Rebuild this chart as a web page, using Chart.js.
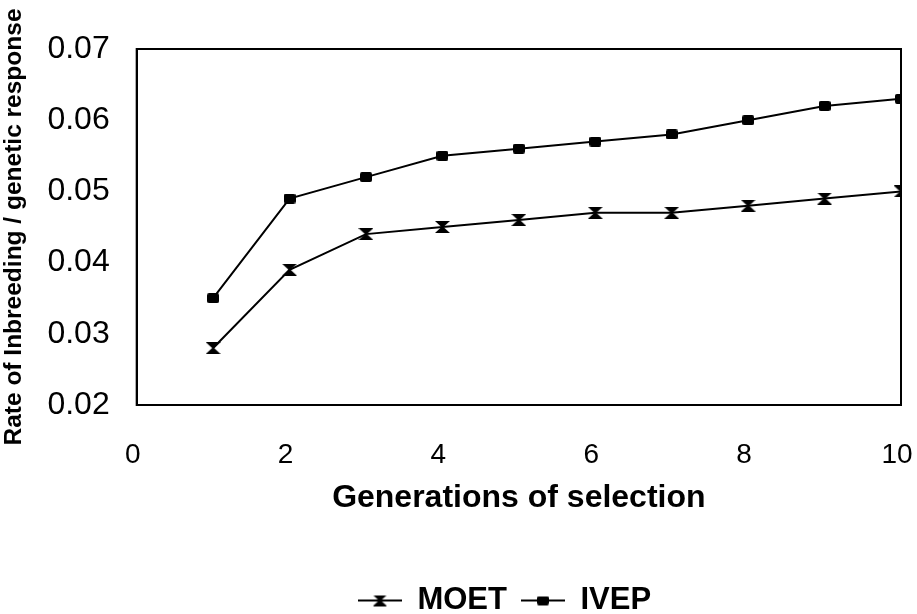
<!DOCTYPE html>
<html>
<head>
<meta charset="utf-8">
<script src="https://cdn.jsdelivr.net/npm/chart.js@4.4.1/dist/chart.umd.min.js"></script>
<style>
  html,body{margin:0;padding:0;background:#fff;}
  #wrap{width:917px;height:614px;position:relative;}
</style>
</head>
<body>
<div id="wrap"><canvas id="chart"></canvas></div>
<script>
// data
const generations = [1, 2, 3, 4, 5, 6, 7, 8, 9, 10];
const moet = [0.028, 0.039, 0.044, 0.045, 0.046, 0.047, 0.047, 0.048, 0.049, 0.050];
const ivep = [0.035, 0.049, 0.052, 0.055, 0.056, 0.057, 0.058, 0.060, 0.062, 0.063];
const xTicks = [0, 2, 4, 6, 8, 10];
const yTicks = [0.02, 0.03, 0.04, 0.05, 0.06, 0.07];

const FONT = 'Liberation Sans, Arial, sans-serif';

// hourglass marker used for MOET
function hourglass(w, h){
  const c = document.createElement('canvas');
  c.width = w; c.height = h;
  const g = c.getContext('2d');
  g.fillStyle = '#000';
  g.beginPath();
  g.moveTo(0, 0); g.lineTo(w, 0); g.lineTo(w/2 + 1, h/2);
  g.lineTo(w, h); g.lineTo(0, h); g.lineTo(w/2 - 1, h/2);
  g.closePath(); g.fill();
  return c;
}
function squareMark(w, h){
  const c = document.createElement('canvas');
  c.width = w; c.height = h;
  const g = c.getContext('2d');
  g.fillStyle = '#000';
  g.beginPath();
  g.roundRect(0, 0, w, h, 2);
  g.fill();
  return c;
}
// legend swatch: short line with the marker in the middle
function legendSwatch(mark){
  const c = document.createElement('canvas');
  c.width = 44; c.height = 14;
  const g = c.getContext('2d');
  g.strokeStyle = '#000'; g.lineWidth = 2;
  g.beginPath(); g.moveTo(0, 7); g.lineTo(44, 7); g.stroke();
  g.drawImage(mark, 22 - mark.width/2, 7 - mark.height/2);
  return c;
}

const moetMark = hourglass(15, 12);
const ivepMark = squareMark(12, 10);
const swatches = [legendSwatch(hourglass(14, 11)), legendSwatch(squareMark(12, 9))];

const boxPlugin = {
  id: 'box',
  afterLayout(chart){
    // legend in the original sits right of the page centre
    chart.legend.left += 54;
    chart.legend.right += 54;
  },
  afterDraw(chart){
    const a = chart.chartArea, ctx = chart.ctx;
    ctx.save();
    ctx.strokeStyle = '#000'; ctx.lineWidth = 2;
    ctx.strokeRect(a.left, a.top, a.right - a.left, a.bottom - a.top);
    ctx.restore();
  }
};

new Chart(document.getElementById('chart'), {
  type: 'line',
  data: {
    datasets: [
      {
        label: 'MOET',
        data: generations.map((g, i) => ({x: g, y: moet[i]})),
        borderColor: '#000', borderWidth: 2, tension: 0,
        pointStyle: moetMark, pointRadius: 7
      },
      {
        label: 'IVEP',
        data: generations.map((g, i) => ({x: g, y: ivep[i]})),
        borderColor: '#000', borderWidth: 2, tension: 0,
        pointStyle: ivepMark, pointRadius: 6
      }
    ]
  },
  options: {
    responsive: true, maintainAspectRatio: false, animation: false,
    layout: { padding: { top: 49, right: 16, left: 0, bottom: -12 } },
    plugins: {
      tooltip: { enabled: false },
      legend: {
        position: 'bottom',
        labels: {
          usePointStyle: true,
          pointStyleWidth: 44,
          color: '#000',
          font: { family: FONT, size: 31, weight: 'bold' },
          padding: 14,
          generateLabels: chart => chart.data.datasets.map((d, i) => ({
            text: d.label, pointStyle: swatches[i], datasetIndex: i,
            fillStyle: '#000', strokeStyle: '#000', lineWidth: 0, fontColor: '#000'
          }))
        }
      }
    },
    scales: {
      x: {
        type: 'linear', min: 0, max: 10,
        grid: { display: false, drawTicks: false },
        border: { display: true, color: '#000', width: 2 },
        afterBuildTicks: s => { s.ticks = xTicks.map(v => ({value: v})); },
        afterFit: s => { s.paddingRight = 0; s.paddingLeft = 0; },
        ticks: { color: '#000', padding: 33, labelOffset: -4, font: { family: FONT, size: 28 } },
        title: {
          display: true, text: 'Generations of selection', color: '#000',
          font: { family: FONT, size: 32, weight: 'bold' },
          padding: { top: -26, bottom: 54 }
        }
      },
      y: {
        min: 0.02, max: 0.07,
        grid: { display: false, drawTicks: false },
        border: { display: true, color: '#000', width: 2 },
        afterBuildTicks: s => { s.ticks = yTicks.map(v => ({value: v})); },
        afterFit: s => { s.paddingTop = 0; s.paddingBottom = 0; },
        ticks: { color: '#000', padding: 27, callback: v => v.toFixed(2),
                 font: { family: FONT, size: 32 } },
        title: {
          display: true, text: 'Rate of Inbreeding / genetic response', color: '#000',
          font: { family: FONT, size: 24.5, weight: 'bold' },
          padding: { top: 0, bottom: -9 }
        }
      }
    }
  },
  plugins: [boxPlugin]
});
</script>
</body>
</html>
